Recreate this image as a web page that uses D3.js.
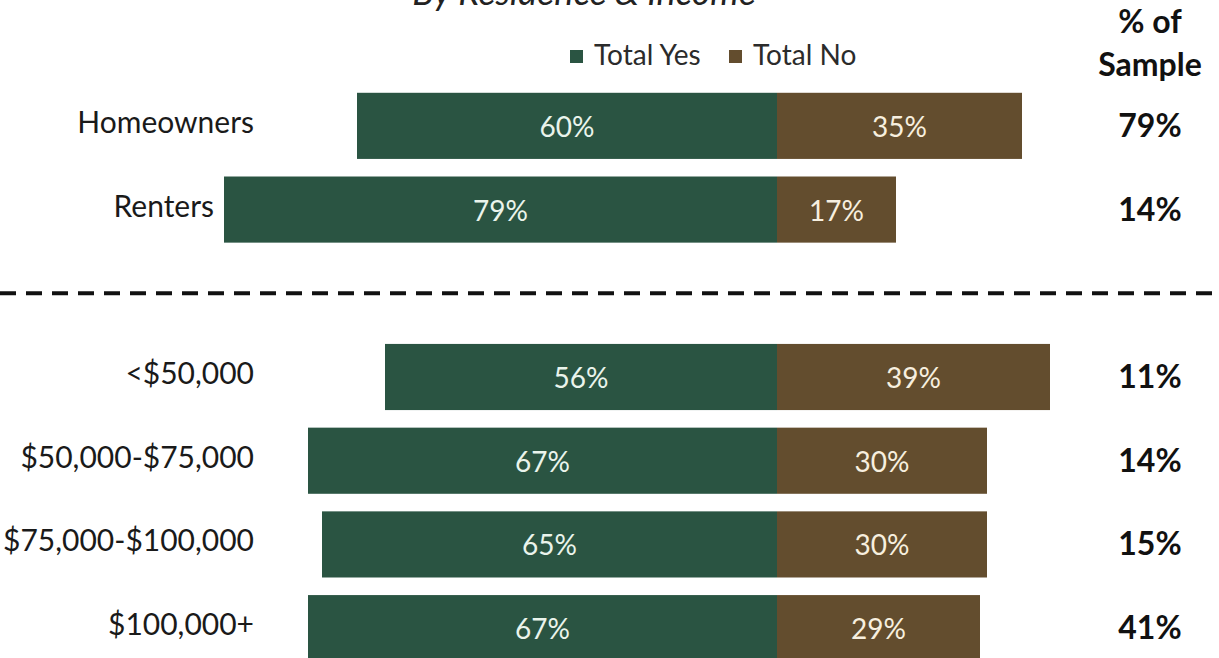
<!DOCTYPE html>
<html>
<head>
<meta charset="utf-8">
<script src="https://cdn.jsdelivr.net/npm/d3@7"></script>
<style>
  html, body { margin: 0; padding: 0; background: #ffffff; }
  svg { display: block; }
  text { font-family: Lato, "Open Sans", sans-serif; }
</style>
</head>
<body>
<svg id="chart" width="1219" height="658"></svg>
<script>
// Residence group and income group rows
const residenceCategories = ["Homeowners", "Renters"];
const incomeCategories = ["<$50,000", "$50,000-$75,000", "$75,000-$100,000", "$100,000+"];

// Share answering yes / no, in percent
const residenceYes = [60, 79];
const residenceNo = [35, 17];
const incomeYes = [56, 67, 65, 67];
const incomeNo = [39, 30, 30, 29];

// Share of the whole sample held by each row
const residenceSample = [79, 14];
const incomeSample = [11, 14, 15, 41];

const seriesNames = ["Total Yes", "Total No"];
const titleText = "By Residence & Income";
const sampleHeader = ["% of", "Sample"];

const colors = { yes: "#2a5442", no: "#634d2e" };
const fmt = v => v + "%";

const W = 1219, H = 658;
const svg = d3.select("#chart");

// Build row records; a divider slot separates the two groups
const rows = [
  ...residenceCategories.map((c, i) => ({ key: c, yes: residenceYes[i], no: residenceNo[i], sample: residenceSample[i] })),
  ...incomeCategories.map((c, i) => ({ key: c, yes: incomeYes[i], no: incomeNo[i], sample: incomeSample[i] }))
];
const slots = [...residenceCategories, "__divider__", ...incomeCategories];

const y = d3.scaleBand()
  .domain(slots)
  .range([84, 670])
  .paddingInner(0.21)
  .paddingOuter(0.105);

// Diverging axis: yes grows left of zero, no grows right
const x = d3.scaleLinear().domain([-100, 100]).range([77, 1477]);

// Title (sits partly above the top edge)
svg.append("text")
  .attr("x", 584).attr("y", 5)
  .attr("text-anchor", "middle")
  .attr("font-size", 36)
  .attr("font-style", "italic")
  .attr("fill", "#222")
  .text(titleText);

// Legend
const legend = svg.append("g");
const legendItems = [
  { name: seriesNames[0], color: colors.yes, x: 570 },
  { name: seriesNames[1], color: colors.no, x: 729 }
];
legendItems.forEach(d => {
  legend.append("rect")
    .attr("x", d.x).attr("y", 50).attr("width", 13).attr("height", 13)
    .attr("fill", d.color);
  legend.append("text")
    .attr("x", d.x + 24).attr("y", 65)
    .attr("font-size", 28)
    .attr("fill", "#2b2b2b")
    .text(d.name);
});

// Sample column header
svg.append("g").selectAll("text")
  .data(sampleHeader)
  .join("text")
  .attr("x", 1150)
  .attr("y", (d, i) => 33 + i * 43)
  .attr("text-anchor", "middle")
  .attr("font-size", 32)
  .attr("font-weight", 700)
  .attr("fill", "#111")
  .text(d => d);

// Dashed divider between the groups
const divY = y("__divider__") + y.bandwidth() / 2;
svg.append("line")
  .attr("x1", 0).attr("x2", W)
  .attr("y1", divY).attr("y2", divY)
  .attr("stroke", "#111")
  .attr("stroke-width", 4)
  .attr("stroke-dasharray", "16 10");

const bh = y.bandwidth();
const rowG = svg.append("g").selectAll("g")
  .data(rows)
  .join("g")
  .attr("transform", d => `translate(0,${y(d.key)})`);

// Yes segments
rowG.append("rect")
  .attr("x", d => x(-d.yes))
  .attr("y", 0)
  .attr("width", d => x(0) - x(-d.yes))
  .attr("height", bh)
  .attr("fill", colors.yes);

// No segments
rowG.append("rect")
  .attr("x", x(0))
  .attr("y", 0)
  .attr("width", d => x(d.no) - x(0))
  .attr("height", bh)
  .attr("fill", colors.no);

// Segment value labels
rowG.append("text")
  .attr("x", d => (x(-d.yes) + x(0)) / 2)
  .attr("y", bh / 2 + 11)
  .attr("text-anchor", "middle")
  .attr("font-size", 28)
  .attr("fill", "#eaf4ec")
  .text(d => fmt(d.yes));

rowG.append("text")
  .attr("x", d => (x(0) + x(d.no)) / 2)
  .attr("y", bh / 2 + 11)
  .attr("text-anchor", "middle")
  .attr("font-size", 28)
  .attr("fill", "#f7efdf")
  .text(d => fmt(d.no));

// Row category labels: right-aligned in a column, kept clear of their own bar
rowG.append("text")
  .attr("x", d => Math.min(254, x(-d.yes) - 10))
  .attr("y", bh / 2 + 7)
  .attr("text-anchor", "end")
  .attr("font-size", 30)
  .attr("fill", "#1a1a1a")
  .text(d => d.key);

// Share of sample
rowG.append("text")
  .attr("x", 1150)
  .attr("y", bh / 2 + 11)
  .attr("text-anchor", "middle")
  .attr("font-size", 32)
  .attr("font-weight", 700)
  .attr("fill", "#111")
  .text(d => fmt(d.sample));
</script>
</body>
</html>
